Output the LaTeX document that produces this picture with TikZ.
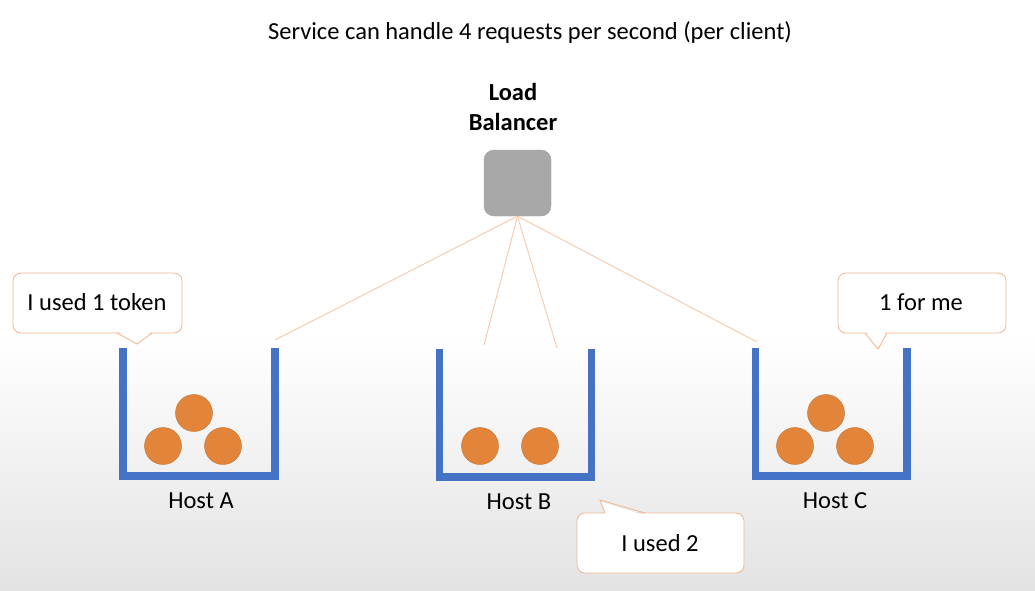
\documentclass[tikz,border=0pt]{standalone}
\usepackage{fontspec}
\setmainfont{Carlito}
\begin{document}
\begin{tikzpicture}[x=1pt,y=-1pt,
  txt/.style={inner sep=0pt, font=\fontsize{24.5}{30}\selectfont},
  bucket/.style={draw=bucketblue, line width=7.5pt, line join=miter, line cap=butt},
  ball/.style={circle, fill=ballorange, draw=ballorange!85!black, line width=0.4pt, minimum size=37pt, inner sep=0pt},
  link/.style={draw=linkpeach, line width=0.9pt},
  callout/.style={draw=callorange, line width=0.8pt, fill=white, rounded corners=8pt},
  tailfill/.style={fill=white},
  tailline/.style={draw=callorange, line width=0.8pt, line join=miter}
]
\definecolor{bucketblue}{HTML}{4472C4}
\definecolor{ballorange}{HTML}{E2853A}
\definecolor{linkpeach}{HTML}{F6C9AB}
\definecolor{callorange}{HTML}{F2B48A}
\definecolor{lbgray}{HTML}{A8A8A8}
\definecolor{bgbottom}{HTML}{E3E3E3}
\useasboundingbox (0,0) rectangle (1035,590);
% background
\fill[white] (0,0) rectangle (1035,335);
\shade[top color=white, bottom color=bgbottom] (0,335) rectangle (1035,590);

% title
\node[txt] (title) at (530,33) {Service can handle 4 requests per second (per client)};

% load balancer
\node[txt, font=\fontsize{24.5}{30}\selectfont\bfseries, align=center] (lblabel) at (513,107) {Load\\Balancer};
\node[draw=gray!75, fill=lbgray, rounded corners=10pt, minimum width=67pt, minimum height=66pt, inner sep=0pt] (lb) at (517.5,183) {};

% connector ends
\coordinate (ea) at (275,340);
\coordinate (eb1) at (484,345);
\coordinate (eb2) at (557,348);
\coordinate (ec) at (757,342);
\draw[link] (lb.south) -- (ea);
\draw[link] (lb.south) -- (eb1);
\draw[link] (lb.south) -- (eb2);
\draw[link] (lb.south) -- (ec);

% buckets
\draw[bucket] (123,348) -- (123,476) -- (275,476) -- (275,348);
\draw[bucket] (439.5,349) -- (439.5,477) -- (591.5,477) -- (591.5,349);
\draw[bucket] (755.5,348) -- (755.5,476) -- (907,476) -- (907,348);

% balls
\node[ball] (a1) at (194,413) {};
\node[ball] (a2) at (163,446) {};
\node[ball] (a3) at (223,446) {};
\node[ball] (b1) at (480,446) {};
\node[ball] (b2) at (540,446) {};
\node[ball] (c1) at (826,413) {};
\node[ball] (c2) at (795,446) {};
\node[ball] (c3) at (855,446) {};

% host labels
\node[txt] (ha) at (201,501) {Host A};
\node[txt] (hb) at (519,502) {Host B};
\node[txt] (hc) at (835,501) {Host C};

% callout A
\draw[callout] (13,273) rectangle (182,333);
\fill[tailfill] (118,331) -- (151,331) -- (137,343) -- cycle;
\draw[tailline] (117,333) -- (137,344) -- (152,333);
\node[txt] (ca) at (97,302) {I used 1 token};

% callout C
\draw[callout] (838,273) rectangle (1006,333);
\fill[tailfill] (866,331) -- (886,331) -- (878,347) -- cycle;
\draw[tailline] (865,333) -- (878,349) -- (887,333);
\node[txt] (cc) at (921,302) {1 for me};

% callout B
\draw[callout] (577,513) rectangle (744,573);
\fill[tailfill] (606,515) -- (644,515) -- (601,502) -- cycle;
\draw[tailline] (605,513) -- (600,500) -- (645,513);
\node[txt] (cb) at (660,543) {I used 2};
\end{tikzpicture}
\end{document}
